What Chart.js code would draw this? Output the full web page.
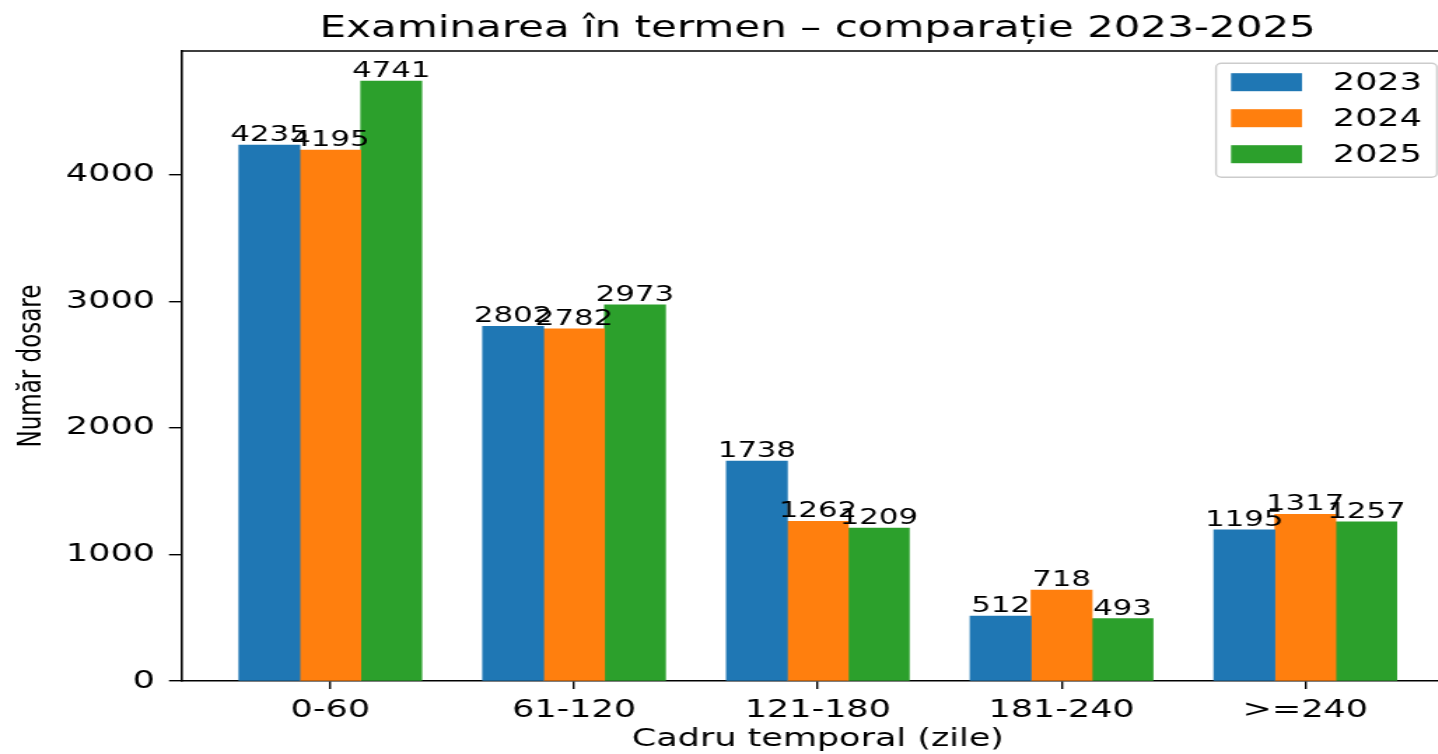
<!DOCTYPE html>
<html>
<head>
<meta charset="utf-8">
<title>Examinarea în termen</title>
<script src="https://cdn.jsdelivr.net/npm/chart.js@4.4.0/dist/chart.umd.min.js"></script>
<style>
  html, body { margin: 0; padding: 0; background: #fff; overflow: hidden; }
  /* the reference is stretched sideways, so the canvas is too */
  #wrap { width: 1040px; height: 754px; transform: scaleX(1.4); transform-origin: 0 0; }
</style>
</head>
<body>
<div id="wrap"><canvas id="chart" width="1040" height="754"></canvas></div>
<script>
// Data
const categories = ['0-60', '61-120', '121-180', '181-240', '>=240'];
const years = ['2023', '2024', '2025'];
const values2023 = [4235, 2802, 1738, 512, 1195];
const values2024 = [4195, 2782, 1262, 718, 1317];
const values2025 = [4741, 2973, 1209, 493, 1257];
const yTicks = [0, 1000, 2000, 3000, 4000];
const colors = ['#1f77b4', '#ff7f0e', '#2ca02c'];

const FONT = "'DejaVu Sans', sans-serif";
const barWidth = 0.25;
const yMax = 4978;

const series = [values2023, values2024, values2025];
const datasets = series.map((vals, k) => ({
  label: years[k],
  data: vals.map((v, i) => ({ x: i + (k - 1) * barWidth, y: v })),
  backgroundColor: colors[k],
  borderWidth: 0,
  grouped: false,
  barPercentage: 1,
  categoryPercentage: 1,
}));

// value labels, top spine and the legend box inside the plot
const extras = {
  id: 'extras',
  afterDatasetsDraw(chart) {
    const ctx = chart.ctx;
    const area = chart.chartArea;
    ctx.save();
    ctx.fillStyle = '#000';
    ctx.font = '22px ' + FONT;
    ctx.textAlign = 'center';
    ctx.textBaseline = 'alphabetic';
    chart.data.datasets.forEach((ds, k) => {
      chart.getDatasetMeta(k).data.forEach((bar, i) => {
        ctx.fillText(String(ds.data[i].y), bar.x, bar.y - 4);
      });
    });

    // frame
    ctx.strokeStyle = '#000';
    ctx.lineWidth = 1.6;
    ctx.beginPath();
    ctx.moveTo(area.left, area.top);
    ctx.lineTo(area.right, area.top);
    ctx.lineTo(area.right, area.bottom);
    ctx.stroke();

    // legend
    const lx = area.right - 170.4, ly = area.top + 12.2;
    ctx.fillStyle = 'rgba(255,255,255,0.8)';
    ctx.strokeStyle = '#cccccc';
    ctx.lineWidth = 1.4;
    ctx.beginPath();
    ctx.roundRect(lx, ly, 157.8, 114, 4);
    ctx.fill();
    ctx.stroke();
    ctx.font = '25px ' + FONT;
    ctx.textAlign = 'left';
    ctx.textBaseline = 'middle';
    chart.data.datasets.forEach((ds, k) => {
      const cy = ly + 19 + k * 36;
      ctx.fillStyle = ds.backgroundColor;
      ctx.fillRect(lx + 10.7, cy - 9, 50.7, 18);
      ctx.fillStyle = '#000';
      ctx.fillText(ds.label, lx + 83.4, cy + 1);
    });
    ctx.restore();
  }
};

new Chart(document.getElementById('chart'), {
  type: 'bar',
  data: { datasets },
  options: {
    responsive: false,
    animation: false,
    layout: { padding: { left: 0, right: 1, top: 0, bottom: 0 } },
    plugins: {
      legend: { display: false },
      tooltip: { enabled: false },
      title: {
        display: true,
        text: 'Examinarea în termen – comparație 2023-2025',
        color: '#000',
        fullSize: false,
        font: { family: FONT, size: 30, weight: 'normal' },
        padding: { top: 11, bottom: 4 },
      },
    },
    scales: {
      x: {
        type: 'linear',
        offset: false,
        min: -0.6125,
        max: 4.6125,
        afterBuildTicks: (s) => { s.ticks = categories.map((c, i) => ({ value: i })); },
        afterFit: (s) => { s.height = 73; },
        ticks: {
          callback: (v) => categories[v],
          color: '#000',
          font: { family: FONT, size: 25 },
          padding: 6,
          maxRotation: 0,
        },
        grid: { drawOnChartArea: false, offset: false, tickLength: 8, color: '#000', lineWidth: 1.4 },
        border: { display: true, color: '#000', width: 1.6 },
        title: {
          display: true,
          text: 'Cadru temporal (zile)',
          color: '#000',
          font: { family: FONT, size: 25 },
          padding: { top: 0, bottom: 0 },
        },
      },
      y: {
        min: 0,
        max: yMax,
        afterBuildTicks: (s) => { s.ticks = yTicks.map((v) => ({ value: v })); },
        afterFit: (s) => { s.width = 129.3; },
        ticks: {
          callback: (v) => String(v),
          color: '#000',
          font: { family: FONT, size: 25 },
          padding: 10,
        },
        grid: { drawOnChartArea: false, tickLength: 8.6, color: '#000', lineWidth: 1.4 },
        border: { display: true, color: '#000', width: 1.6 },
        title: {
          display: true,
          text: 'Număr dosare',
          color: '#000',
          font: { family: FONT, size: 23 },
          padding: { top: 9, bottom: 0 },
        },
      },
    },
  },
  plugins: [extras],
});
</script>
</body>
</html>
